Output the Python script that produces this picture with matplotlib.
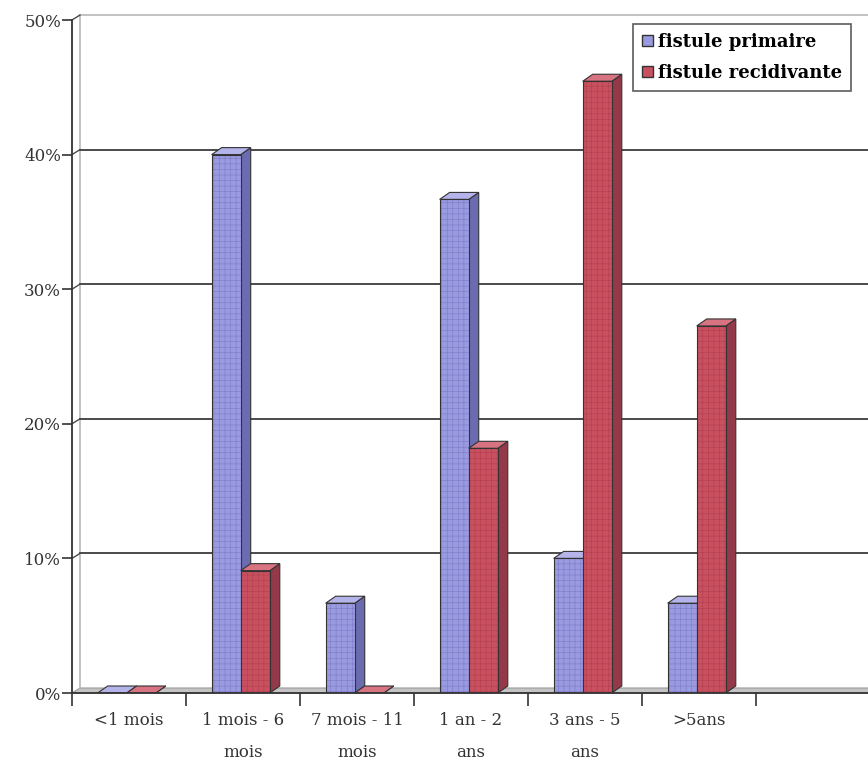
import matplotlib
matplotlib.use("Agg")
import matplotlib.pyplot as plt
from matplotlib.patches import Polygon, Patch

plt.rcParams['font.family'] = ['DejaVu Serif']
plt.rcParams['hatch.linewidth'] = 0.4

# durée d'évolution de la fistule (%)
categories = ["<1 mois", "1 mois - 6\nmois", "7 mois - 11\nmois", "1 an - 2\nans",
              "3 ans - 5\nans", ">5ans", ""]
primaire = [0.0, 40.0, 6.67, 36.67, 10.0, 6.67, None]
recidivante = [0.0, 9.09, 0.0, 18.18, 45.45, 27.27, None]
series_names = ["fistule primaire", "fistule recidivante"]
yticks = [0, 10, 20, 30, 40, 50]

front = ["#9a9ae0", "#c9505f"]
side = ["#6b6bb0", "#93394a"]
top = ["#b4b4ea", "#d87482"]
hatchc = ["#7c7cc8", "#b04050"]

fig = plt.figure(figsize=(8.68, 7.67), dpi=100)
ax = fig.add_axes([72 / 868, 74 / 767, 798 / 868, 673 / 767])
ax.set_xlim(0, 7)
ax.set_ylim(0, 50)

# pixel -> data scale for the pseudo-3D depth
px_x = 7 / 798
px_y = 50 / 673
wdx, wdy = 8 * px_x, 5 * px_y   # back wall depth
bdx, bdy = 10 * px_x, 7 * px_y  # bar depth

# floor
ax.add_patch(Polygon([(0, 0), (7.3, 0), (7.3 + wdx, wdy), (wdx, wdy)],
                     closed=True, facecolor="#c4c4c4", edgecolor="#9a9a9a",
                     lw=0.8, clip_on=False, zorder=1))
# side wall edge and top edge of back wall
ax.plot([wdx, wdx], [wdy, 50 + wdy], color="#b8b8b8", lw=1.2, clip_on=False, zorder=1)
ax.plot([wdx, 7.3], [50 + wdy, 50 + wdy], color="#b8b8b8", lw=1.2, clip_on=False, zorder=1)

# gridlines on the back wall with their connectors to the axis
for v in yticks[1:-1]:
    ax.plot([wdx, 7.3], [v + wdy, v + wdy], color="#4a4a4a", lw=1.4,
            clip_on=False, zorder=1)
for v in yticks[1:]:
    ax.plot([0, wdx], [v, v + wdy], color="#4a4a4a", lw=1.0, clip_on=False, zorder=1)

# bars
bw = 0.255
for i in range(len(categories)):
    for s, vals in enumerate([primaire, recidivante]):
        h = vals[i]
        if h is None:
            continue
        x0 = i + 0.225 + s * bw
        x1 = x0 + bw
        z = 3 + s
        ax.add_patch(Polygon([(x1, 0), (x1 + bdx, bdy), (x1 + bdx, h + bdy), (x1, h)],
                             closed=True, facecolor=side[s], edgecolor="#333333",
                             lw=0.8, zorder=z))
        ax.add_patch(Polygon([(x0, h), (x1, h), (x1 + bdx, h + bdy), (x0 + bdx, h + bdy)],
                             closed=True, facecolor=top[s], edgecolor="#333333",
                             lw=0.8, zorder=z))
        if h > 0:
            ax.add_patch(Polygon([(x0, 0), (x1, 0), (x1, h), (x0, h)], closed=True,
                                 facecolor=front[s], edgecolor=hatchc[s], hatch="+++",
                                 lw=0, zorder=z))
            ax.add_patch(Polygon([(x0, 0), (x1, 0), (x1, h), (x0, h)], closed=True,
                                 fill=False, edgecolor="#333333", lw=0.8, zorder=z))

# axes
for sp in ["top", "right"]:
    ax.spines[sp].set_visible(False)
for sp in ["left", "bottom"]:
    ax.spines[sp].set_color("#333333")
    ax.spines[sp].set_linewidth(1.3)
    ax.spines[sp].set_zorder(6)

ax.set_yticks(yticks)
ax.set_yticklabels([f"{v}%" for v in yticks], fontsize=12, color="#333333")
ax.set_xticks(range(8))
ax.set_xticklabels([])
ax.set_xticks([i + 0.5 for i in range(7)], minor=True)
ax.set_xticklabels(categories, minor=True, fontsize=12, color="#333333", linespacing=2.1)
ax.tick_params(axis="y", direction="out", length=7, width=1.2, color="#333333", pad=1)
ax.tick_params(axis="x", which="major", direction="out", length=9, width=1.2, color="#333333")
ax.tick_params(axis="x", which="minor", length=0, pad=14)

handles = [Patch(facecolor=front[k], edgecolor="#333333", label=series_names[k])
           for k in range(2)]
leg = fig.legend(handles=handles, loc="upper left", bbox_to_anchor=(633 / 868, 1 - 24 / 767),
                 borderaxespad=0, frameon=True, fancybox=False, edgecolor="#333333",
                 prop={"weight": "bold", "size": 13}, handlelength=0.6, handleheight=0.6,
                 handletextpad=0.3, borderpad=0.5, labelspacing=0.7)
leg.get_frame().set_linewidth(1.2)

fig.savefig("out.png", dpi=100, facecolor="white")
